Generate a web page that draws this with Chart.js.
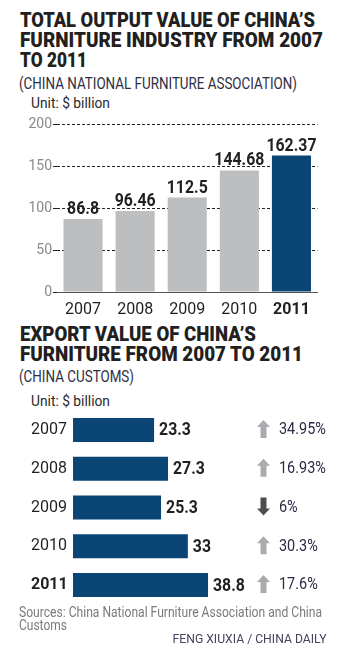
<!DOCTYPE html>
<html>
<head>
<meta charset="utf-8">
<script src="https://cdn.jsdelivr.net/npm/chart.js@4.4.1/dist/chart.umd.min.js"></script>
<style>
    body { margin: 0; background: #fff; width: 343px; height: 653px; position: relative; overflow: hidden; font-family: Roboto, sans-serif; }
    .fit { position: absolute; white-space: nowrap; transform-origin: left top; }
    .title { left: 20px; font-weight: 900; font-size: 21px; line-height: 20px; color: #231f20; }
    .sub { left: 19px; font-size: 16.5px; line-height: 20px; color: #2e2e44; }
    .unit { left: 31px; font-size: 15.5px; line-height: 20px; color: #2a2a2a; }
    .src { left: 19px; font-size: 14px; line-height: 16px; color: #7a7a7a; }
    .credit { font-size: 13.5px; line-height: 16px; color: #4a4060; transform-origin: right top; right: 16px; }
    .box { position: absolute; left: 0; width: 343px; }
</style>
</head>
<body>
<div class="fit title" style="top:10px" data-w="295">TOTAL OUTPUT VALUE OF CHINA’S</div>
<div class="fit title" style="top:30px" data-w="303">FURNITURE INDUSTRY FROM 2007</div>
<div class="fit title" style="top:50px" data-w="67">TO 2011</div>
<div class="fit sub" style="top:74px" data-w="278">(CHINA NATIONAL FURNITURE ASSOCIATION)</div>
<div class="fit unit" style="top:93px" data-w="79">Unit: $ billion</div>
<div class="box" style="top:112px;height:210px"><canvas id="outputChart"></canvas></div>

<div class="fit title" style="top:324px" data-w="236">EXPORT VALUE OF CHINA’S</div>
<div class="fit title" style="top:344px" data-w="283">FURNITURE FROM 2007 TO 2011</div>
<div class="fit sub" style="top:367px" data-w="115">(CHINA CUSTOMS)</div>
<div class="fit unit" style="top:391px" data-w="79">Unit: $ billion</div>
<div class="box" style="top:400px;height:215px"><canvas id="exportChart"></canvas></div>

<div class="fit src" style="top:604px" data-w="303">Sources: China National Furniture Association and China</div>
<div class="fit src" style="top:617px" data-w="48">Customs</div>
<div class="fit credit" style="top:630px" data-w="154">FENG XIUXIA / CHINA DAILY</div>

<script>
const years = ['2007', '2008', '2009', '2010', '2011'];
const outputValues = [86.8, 96.46, 112.5, 144.68, 162.37];
const outputTicks = [0, 50, 100, 150, 200];
const exportValues = [23.3, 27.3, 25.3, 33, 38.8];
const exportChange = ['34.95%', '16.93%', '6%', '30.3%', '17.6%'];
const exportDirection = ['up', 'up', 'down', 'up', 'up'];

const gray = '#bcbec0';
const blue = '#0b4576';

// squeeze the html text to the condensed widths of the original
document.querySelectorAll('[data-w]').forEach(el => {
    const w = el.getBoundingClientRect().width;
    el.style.transform = `scaleX(${el.dataset.w / w})`;
});

// narrow text on the canvas, the fonts here are all too wide
function squeezedText(ctx, text, x, y, sx) {
    ctx.save();
    ctx.translate(x, y);
    ctx.scale(sx, 1);
    ctx.fillText(text, 0, 0);
    ctx.restore();
}

const outputLabels = {
    id: 'outputLabels',
    afterDatasetsDraw(chart) {
        const ctx = chart.ctx;
        const meta = chart.getDatasetMeta(0);
        ctx.save();
        ctx.font = 'bold 18px Roboto';
        ctx.fillStyle = '#231f20';
        ctx.textAlign = 'center';
        ctx.textBaseline = 'alphabetic';
        meta.data.forEach((bar, i) => {
            squeezedText(ctx, String(outputValues[i]), bar.x, bar.y - 5, 0.88);
        });
        ctx.restore();
    }
};

function drawArrow(ctx, cx, cy, dir) {
    const w = 13, h = 18, head = 7, shaft = 6;
    ctx.save();
    ctx.translate(cx, cy);
    if (dir === 'down') ctx.scale(1, -1);
    ctx.beginPath();
    ctx.moveTo(0, -h / 2);
    ctx.lineTo(w / 2, -h / 2 + head);
    ctx.lineTo(shaft / 2, -h / 2 + head);
    ctx.lineTo(shaft / 2, h / 2);
    ctx.lineTo(-shaft / 2, h / 2);
    ctx.lineTo(-shaft / 2, -h / 2 + head);
    ctx.lineTo(-w / 2, -h / 2 + head);
    ctx.closePath();
    ctx.fillStyle = dir === 'down' ? '#4d4d4f' : '#a9abae';
    ctx.fill();
    ctx.restore();
}

const exportLabels = {
    id: 'exportLabels',
    afterDatasetsDraw(chart) {
        const ctx = chart.ctx;
        const meta = chart.getDatasetMeta(0);
        ctx.save();
        ctx.textBaseline = 'middle';
        ctx.textAlign = 'left';
        meta.data.forEach((bar, i) => {
            ctx.font = 'bold 18px Roboto';
            ctx.fillStyle = '#231f20';
            squeezedText(ctx, String(exportValues[i]), bar.x + 5, bar.y + 1, 0.88);
            drawArrow(ctx, 263.5, bar.y - 1, exportDirection[i]);
            ctx.font = '17px Roboto';
            ctx.fillStyle = '#2b2b45';
            squeezedText(ctx, exportChange[i], 279, bar.y, 0.85);
        });
        ctx.restore();
    }
};

new Chart(document.getElementById('outputChart'), {
    type: 'bar',
    data: {
        labels: years,
        datasets: [{
            data: outputValues,
            backgroundColor: years.map((y, i) => i === years.length - 1 ? blue : gray),
            categoryPercentage: 1,
            barPercentage: 0.75
        }]
    },
    options: {
        responsive: true,
        maintainAspectRatio: false,
        animation: false,
        layout: { padding: { top: 12, right: 25.5, left: 0, bottom: 0 } },
        plugins: { legend: { display: false }, tooltip: { enabled: false } },
        scales: {
            x: {
                afterFit: (s) => { s.height = 30; },
                grid: { display: false },
                border: { display: true, color: '#555', width: 1 },
                ticks: {
                    color: '#231f20',
                    padding: 0,
                    font: (c) => ({ family: 'Roboto', size: 16, weight: c.index === 4 ? 'bold' : 'normal' })
                }
            },
            y: {
                min: 0,
                max: 200,
                afterFit: (s) => { s.width = 57; },
                afterBuildTicks: (s) => { s.ticks = outputTicks.map(v => ({ value: v })); },
                grid: { color: '#222', lineWidth: 1, tickLength: 4, drawTicks: true },
                border: { display: false, dash: [3, 2] },
                ticks: { color: '#8a8a8a', padding: 1, font: { family: 'Roboto', size: 14 } }
            }
        }
    },
    plugins: [outputLabels]
});

new Chart(document.getElementById('exportChart'), {
    type: 'bar',
    data: {
        labels: years,
        datasets: [{
            data: exportValues,
            backgroundColor: blue,
            categoryPercentage: 1,
            barPercentage: 0.62
        }]
    },
    options: {
        indexAxis: 'y',
        responsive: true,
        maintainAspectRatio: false,
        animation: false,
        layout: { padding: { top: 10.6, right: 96, left: 31, bottom: 10.6 } },
        plugins: { legend: { display: false }, tooltip: { enabled: false } },
        scales: {
            x: { display: false, min: 0, max: 50 },
            y: {
                afterFit: (s) => { s.width = 42; },
                grid: { display: false },
                border: { display: false },
                ticks: {
                    color: '#231f20',
                    crossAlign: 'far',
                    padding: 0,
                    font: (c) => ({ family: 'Roboto', size: 16, weight: c.index === 4 ? 'bold' : 'normal' })
                }
            }
        }
    },
    plugins: [exportLabels]
});
</script>
</body>
</html>
